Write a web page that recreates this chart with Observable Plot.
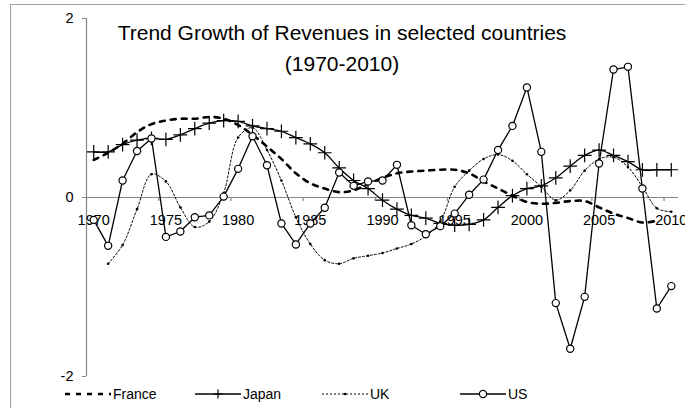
<!DOCTYPE html>
<html><head><meta charset="utf-8">
<script src="https://cdn.jsdelivr.net/npm/d3@7"></script>
<script src="https://cdn.jsdelivr.net/npm/@observablehq/plot@0.6"></script>
<style>
body{margin:0;background:#fff;}
#wrap{position:relative;width:685px;height:408px;overflow:hidden;background:#fff;font-family:"Liberation Sans",Arial,sans-serif;}
#border{position:absolute;left:10px;top:4px;width:800px;height:600px;border:1.5px solid #a0a0a0;box-sizing:border-box;}
#title{position:absolute;left:0;width:684px;top:17px;text-align:center;font-size:21px;line-height:31px;color:#000;}
svg{position:absolute;left:0;top:0;}
</style></head><body>
<div id="wrap"><div id="border"></div></div>
<script>
const years = [1970,1971,1972,1973,1974,1975,1976,1977,1978,1979,1980,1981,1982,1983,1984,1985,1986,1987,1988,1989,1990,1991,1992,1993,1994,1995,1996,1997,1998,1999,2000,2001,2002,2003,2004,2005,2006,2007,2008,2009,2010];
const labelYears = [1970,1975,1980,1985,1990,1995,2000,2005,2010];
const yTicks = [-2,0,2];
const titleLines = ["Trend Growth of Revenues in selected countries","(1970-2010)"];
const seriesNames = ["France","Japan","UK","US"];
const france = [0.42,0.50,0.60,0.73,0.82,0.86,0.88,0.88,0.90,0.88,0.81,0.70,0.57,0.43,0.27,0.16,0.10,0.06,0.08,0.15,0.22,0.27,0.29,0.30,0.31,0.31,0.27,0.18,0.10,0.02,-0.05,-0.07,-0.06,-0.04,-0.04,-0.11,-0.18,-0.23,-0.28,-0.26,null];
const japan = [0.51,0.51,0.59,0.64,0.66,0.65,0.70,0.77,0.83,0.86,0.85,0.80,0.77,0.74,0.67,0.60,0.50,0.33,0.19,0.10,-0.03,-0.13,-0.20,-0.23,-0.29,-0.31,-0.30,-0.25,-0.11,0.02,0.10,0.13,0.22,0.35,0.47,0.53,0.47,0.40,0.31,0.31,0.31];
const uk = [null,-0.74,-0.53,-0.13,0.26,0.18,-0.11,-0.33,-0.27,0.05,0.67,0.78,0.53,0.19,-0.22,-0.52,-0.70,-0.74,-0.68,-0.65,-0.62,-0.57,-0.52,-0.43,-0.27,0.12,0.30,0.43,0.48,0.41,0.26,0.12,-0.03,0.08,0.30,0.43,0.45,0.34,0.12,-0.12,-0.16];
const us = [-0.25,-0.54,0.19,0.52,0.66,-0.44,-0.38,-0.22,-0.20,0.01,0.32,0.685,0.36,-0.29,-0.525,-0.29,-0.115,0.28,0.13,0.18,0.19,0.365,-0.31,-0.41,-0.32,-0.18,0.03,0.20,0.53,0.80,1.23,0.51,-1.18,-1.69,-1.11,0.38,1.43,1.46,0.10,-1.24,-0.99];

const rows = (vals) => years.map((yr,i)=>({year:yr, v:vals[i]})).filter(d=>d.v!=null);
const F = rows(france), J = rows(japan), U = rows(uk), S = rows(us);
const xDom = [years[0]-0.5, years[years.length-1]+0.5];
const bounds = labelYears.map(y=>y-0.5);
const W=685, H=408, mL=86, mR=7, mT=18, mB=32;
const tickLen = 4*(4/(H-mT-mB));
const font = '"Liberation Sans",Arial,sans-serif';
const grey = "#868686";

const chart = Plot.plot({
  width:W, height:H, marginLeft:mL, marginRight:mR, marginTop:mT, marginBottom:mB,
  style:{fontFamily:font, background:"transparent", overflow:"visible"},
  x:{domain:xDom, axis:null},
  y:{domain:[-2,2], axis:null},
  marks:[
    Plot.ruleX([xDom[0]], {stroke:grey, strokeWidth:1.2}),
    Plot.axisY({ticks:yTicks, tickSize:4, tickPadding:9, stroke:grey, fill:"#000", fontSize:14.5, label:null, tickFormat:d=>String(d)}),
    Plot.ruleY([0], {stroke:grey, strokeWidth:1.2}),
    Plot.ruleX(bounds, {x:d=>d, y1:0, y2:-tickLen, stroke:grey, strokeWidth:1.2}),
    Plot.text(labelYears, {x:d=>d, y:0, dy:23, text:d=>String(d), fontSize:14.5, fill:"#000"}),
    Plot.line(F, {x:"year", y:"v", stroke:"#000", strokeWidth:2.6, strokeDasharray:"5,6", curve:"catmull-rom"}),
    Plot.line(J, {x:"year", y:"v", stroke:"#000", strokeWidth:1.3, curve:"catmull-rom"}),
    Plot.dot(J, {x:"year", y:"v", symbol:"plus", r:4.5, stroke:"#000", strokeWidth:1.2}),
    Plot.line(U, {x:"year", y:"v", stroke:"#000", strokeWidth:1, strokeDasharray:"2,2", curve:"catmull-rom"}),
    Plot.dot(U, {x:"year", y:"v", r:1.3, fill:"#000"}),
    Plot.line(S, {x:"year", y:"v", stroke:"#000", strokeWidth:1.3}),
    Plot.dot(S, {x:"year", y:"v", r:3.6, fill:"#fff", stroke:"#000", strokeWidth:1.2})
  ]
});
const wrap = document.getElementById("wrap");
wrap.appendChild(chart);

// title overlay
const t = document.createElement("div");
t.id = "title";
titleLines.forEach(s=>{const d=document.createElement("div"); d.textContent=s; t.appendChild(d);});
wrap.appendChild(t);

// legend overlay
const lg = d3.select(wrap).append("svg").attr("width",W).attr("height",H).style("pointer-events","none");
const legendX = [65,195,322,460];
const ly = 394, len = 46;
seriesNames.forEach((name,i)=>{
  const x0 = legendX[i], g = lg.append("g");
  const ln = g.append("line").attr("x1",x0).attr("x2",x0+len).attr("y1",ly).attr("y2",ly).attr("stroke","#000");
  if(name==="France") ln.attr("stroke-width",2.6).attr("stroke-dasharray","5,6");
  if(name==="Japan"){ ln.attr("stroke-width",1.3);
    g.append("path").attr("d",`M${x0+len/2-4.5},${ly}h9M${x0+len/2},${ly-4.5}v9`).attr("stroke","#000").attr("stroke-width",1.2); }
  if(name==="UK"){ ln.attr("stroke-width",1).attr("stroke-dasharray","2,2");
    g.append("circle").attr("cx",x0+len/2).attr("cy",ly).attr("r",1.3).attr("fill","#000"); }
  if(name==="US"){ ln.attr("stroke-width",1.3);
    g.append("circle").attr("cx",x0+len/2).attr("cy",ly).attr("r",3.6).attr("fill","#fff").attr("stroke","#000").attr("stroke-width",1.2); }
  g.append("text").attr("x",x0+len+2).attr("y",ly).attr("dy","0.35em").attr("font-size",14).attr("font-family",font).text(name);
});
</script>
</body></html>
